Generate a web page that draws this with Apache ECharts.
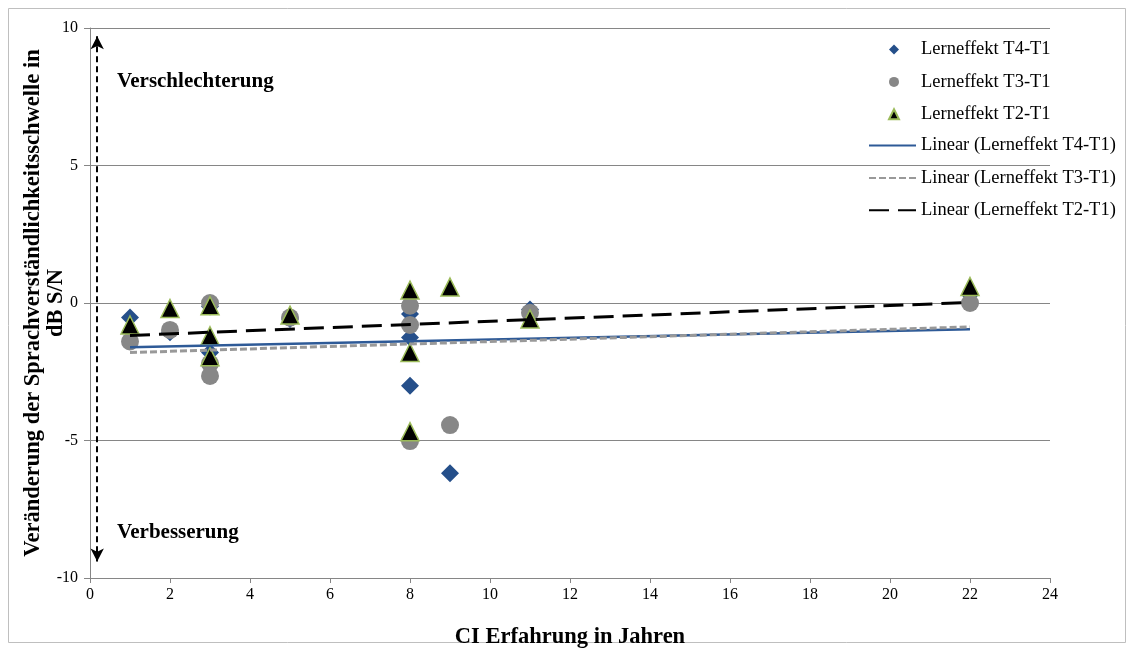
<!DOCTYPE html>
<html>
<head>
<meta charset="utf-8">
<script src="https://cdn.jsdelivr.net/npm/echarts@6/dist/echarts.min.js"></script>
<style>
  html, body { margin: 0; padding: 0; background: #fff; }
  #chart { width: 1134px; height: 650px; }
</style>
</head>
<body>
<div id="chart"></div>
<script>
// CI experience (years) per participant
const years = [1, 2, 3, 3, 3, 5, 8, 8, 8, 9, 11, 22];
// change of speech reception threshold (dB S/N) per participant
const t4 = [-0.53, -1.06, -0.13, -1.8, -2.2, -0.58, -0.4, -1.25, -3.01, -6.19, -0.24, 0.3];
const t3 = [-1.4, -0.98, 0.0, -2.2, -2.65, -0.53, -0.1, -0.8, -5.02, -4.44, -0.35, 0.0];
const t2 = [-0.8, -0.2, -0.1, -1.19, -1.95, -0.44, 0.47, -1.8, -4.68, 0.58, -0.58, 0.6];

const seriesNames = ['Lerneffekt T4-T1', 'Lerneffekt T3-T1', 'Lerneffekt T2-T1'];
const trendNames = seriesNames.map(n => 'Linear (' + n + ')');
const xTicks = [0, 24, 2];
const yTicks = [-10, 10, 5];
// vertical arrow between the two annotations (x position, top, bottom)
const arrowX = 0.18;
const arrowY = [9.7, -9.4];

const serif = 'Liberation Serif, Times New Roman, serif';

function pairs(xs, ys) { return xs.map((x, i) => [x, ys[i]]); }

// least-squares line over the data range
function trend(xs, ys) {
  const n = xs.length;
  const mx = xs.reduce((a, b) => a + b, 0) / n;
  const my = ys.reduce((a, b) => a + b, 0) / n;
  let sxy = 0, sxx = 0;
  for (let i = 0; i < n; i++) {
    sxy += (xs[i] - mx) * (ys[i] - my);
    sxx += (xs[i] - mx) * (xs[i] - mx);
  }
  const b = sxy / sxx, a = my - b * mx;
  const x0 = Math.min(...xs), x1 = Math.max(...xs);
  return [[x0, a + b * x0], [x1, a + b * x1]];
}

const chart = echarts.init(document.getElementById('chart'));
chart.setOption({
  backgroundColor: '#fff',
  animation: false,
  grid: { left: 90, right: 84, top: 28, bottom: 72, outerBoundsMode: 'none', containLabel: false },
  xAxis: {
    type: 'value', min: xTicks[0], max: xTicks[1], interval: xTicks[2],
    axisLine: { onZero: false, lineStyle: { color: '#868686' } },
    axisTick: { show: true, length: 5, lineStyle: { color: '#868686' } },
    splitLine: { show: false },
    axisLabel: { color: '#000', fontFamily: serif, fontSize: 16, margin: 9 },
    name: 'CI Erfahrung in Jahren', nameLocation: 'middle', nameGap: 48, nameMoveOverlap: false,
    nameTextStyle: { color: '#000', fontFamily: serif, fontSize: 22.5, fontWeight: 'bold' }
  },
  yAxis: {
    type: 'value', min: yTicks[0], max: yTicks[1], interval: yTicks[2],
    axisLine: { show: true, lineStyle: { color: '#868686' } },
    axisTick: { show: true, length: 6, lineStyle: { color: '#868686' } },
    splitLine: { show: true, lineStyle: { color: '#868686', width: 1 } },
    axisLabel: { color: '#000', fontFamily: serif, fontSize: 16, margin: 12 },
    name: 'Veränderung der Sprachverständlichkeitsschwelle in\ndB S/N',
    nameLocation: 'middle', nameRotate: 90, nameGap: 22, nameMoveOverlap: false,
    nameTextStyle: { color: '#000', fontFamily: serif, fontSize: 22.5, fontWeight: 'bold', lineHeight: 23 }
  },
  legend: [{
    orient: 'vertical', left: 883, top: 35, itemWidth: 10, itemHeight: 10, itemGap: 13.4,
    data: seriesNames,
    textStyle: { color: '#000', fontFamily: serif, fontSize: 18.5, lineHeight: 19, padding: [0, 0, 0, 17] }
  }, {
    orient: 'vertical', left: 863, top: 131, itemWidth: 47, itemHeight: 14, itemGap: 13.4,
    data: trendNames,
    itemStyle: { opacity: 0 },
    textStyle: { color: '#000', fontFamily: serif, fontSize: 18.5, lineHeight: 19, padding: [0, 0, 0, 0] }
  }],
  graphic: [
    { type: 'rect', silent: true, shape: { x: 8.5, y: 8.5, width: 1117, height: 634 },
      style: { fill: 'none', stroke: '#bfbfbf', lineWidth: 1 } },
    { type: 'text', left: 117, top: 71, silent: true,
      style: { text: 'Verschlechterung', fill: '#000', font: 'bold 21px ' + serif } },
    { type: 'text', left: 117, top: 522, silent: true,
      style: { text: 'Verbesserung', fill: '#000', font: 'bold 21px ' + serif } }
  ],
  series: [
    { name: seriesNames[0], type: 'scatter', symbol: 'diamond', symbolSize: 18,
      itemStyle: { color: '#254F8A', opacity: 1 }, data: pairs(years, t4) },
    { name: seriesNames[1], type: 'scatter', symbol: 'circle', symbolSize: 18,
      itemStyle: { color: '#878787', opacity: 1 }, data: pairs(years, t3) },
    { name: seriesNames[2], type: 'scatter', symbol: 'triangle', symbolSize: 18,
      itemStyle: { color: '#000', borderColor: '#9BBB59', borderWidth: 1.5, opacity: 1 }, data: pairs(years, t2) },
    { name: trendNames[0], type: 'line', symbol: 'none', silent: true,
      lineStyle: { color: '#2E5A97', width: 2.5, type: 'solid' }, itemStyle: { color: '#2E5A97' },
      data: trend(years, t4) },
    { name: trendNames[1], type: 'line', symbol: 'none', silent: true,
      lineStyle: { color: '#999999', width: 3, type: [7, 3] }, itemStyle: { color: '#999999' },
      data: trend(years, t3) },
    { name: trendNames[2], type: 'line', symbol: 'none', silent: true,
      lineStyle: { color: '#000', width: 3, type: [20, 9] }, itemStyle: { color: '#000' },
      data: trend(years, t2) },
    { name: 'arrow', type: 'line', data: [], silent: true,
      markLine: {
        silent: true, symbol: ['arrow', 'arrow'], symbolSize: [10, 13],
        label: { show: false },
        lineStyle: { color: '#000', width: 2, type: [6, 4] },
        data: [[{ coord: [arrowX, arrowY[0]] }, { coord: [arrowX, arrowY[1]] }]]
      } }
  ]
});
</script>
</body>
</html>
